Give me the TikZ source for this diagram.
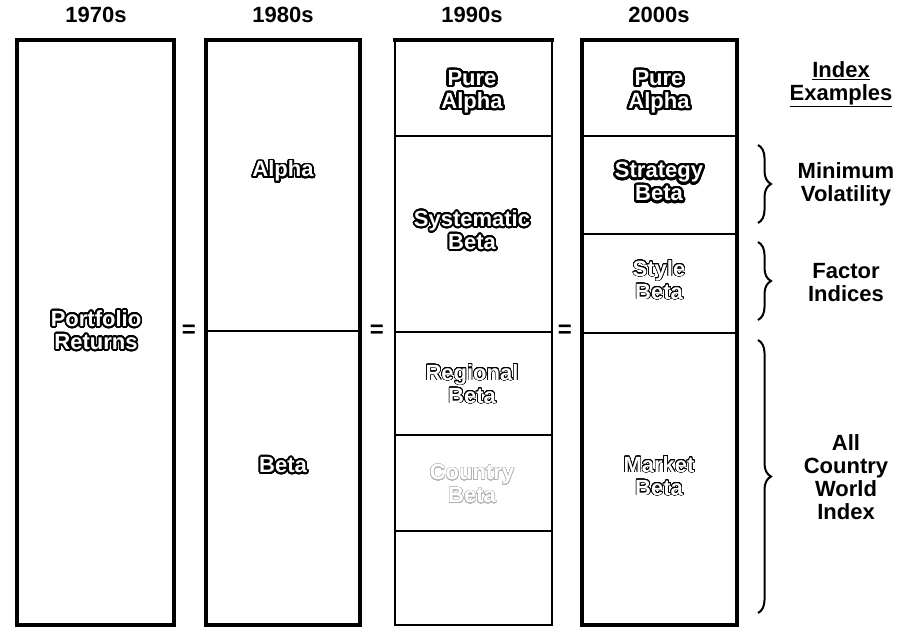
\documentclass[tikz,border=0pt]{standalone}
\usepackage{fontspec}
\setmainfont{Liberation Sans}
\usepackage{contour}
\usetikzlibrary{positioning,decorations.pathreplacing}
\contourlength{1.7pt}
\contournumber{32}
\newcommand{\wlabel}[1]{\contour{black}{\textcolor{white}{#1}}}
\newcommand{\hlabel}[1]{{\contourlength{2.4pt}\contour{black}{\textcolor{white}{#1}}}}
\newcommand{\flabel}[1]{{\contourlength{0.6pt}\contour{black}{\textcolor{white}{#1}}}}
\newcommand{\glabel}[1]{{\contourlength{0.4pt}\contour{gray!60}{\textcolor{white}{#1}}}}

\begin{document}
\begin{tikzpicture}[x=1pt,y=-1pt,
    decade/.style={font=\bfseries\fontsize{22}{22}\selectfont},
    boxtext/.style={font=\bfseries\fontsize{22}{23}\selectfont, align=center, inner sep=0pt},
    sidelabel/.style={font=\bfseries\fontsize{22}{23}\selectfont, align=center, inner sep=0pt},
    eqsign/.style={font=\bfseries\fontsize{24}{24}\selectfont},
    colbox/.style={line width=4pt},
    thinline/.style={line width=1.5pt},
    midline/.style={line width=2.5pt},
    bracket/.style={decorate, decoration={brace, amplitude=13pt, aspect=0.5}, line width=2pt}]
  \useasboundingbox (0,0) rectangle (905,640);
  \def\top{40}
  \def\bot{625}
  %Column edges
  \coordinate (a1) at (17,\top);  \coordinate (b1) at (174,\bot);
  \coordinate (a2) at (206,\top); \coordinate (b2) at (360,\bot);
  \coordinate (a3) at (395,\top); \coordinate (b3) at (552,\bot);
  \coordinate (a4) at (582,\top); \coordinate (b4) at (737,\bot);
  %Draw headers
  \node[decade] (h1) at (96,15) {1970s};
  \node[decade] (h2) at (283,15) {1980s};
  \node[decade] (h3) at (472,15) {1990s};
  \node[decade] (h4) at (659,15) {2000s};
  %Draw columns
  \draw[colbox] (a1) rectangle (b1);
  \draw[colbox] (a2) rectangle (b2);
  \draw[thinline] (395,42) -- (395,\bot) (552,42) -- (552,\bot);
  \draw[colbox] (393,\top) -- (554,\top);
  \draw[midline] (394,\bot) -- (553,\bot);
  \draw[colbox] (a4) rectangle (b4);
  %Draw dividers
  \draw[thinline] (206,331) -- (360,331);
  \draw[thinline] (395,136) -- (552,136);
  \draw[midline] (395,332) -- (552,332);
  \draw[midline] (395,435) -- (552,435);
  \draw[thinline] (395,531) -- (552,531);
  \draw[midline] (582,136) -- (737,136);
  \draw[thinline] (582,234) -- (737,234);
  \draw[midline] (582,333) -- (737,333);
  %Equal signs
  \node[eqsign] (e1) at (189,331) {=};
  \node[eqsign] (e2) at (377,331) {=};
  \node[eqsign] (e3) at (565,331) {=};
  %Draw labels
  \node[boxtext] (ret) at (96,331) {\wlabel{Portfolio}\\\wlabel{Returns}};
  \node[boxtext] (alpha) at (283,172) {\wlabel{Alpha}};
  \node[boxtext] (beta) at (283,466) {\wlabel{Beta}};
  \node[boxtext] (pure3) at (472,93) {\hlabel{Pure}\\\hlabel{Alpha}};
  \node[boxtext] (sys) at (472,231) {\wlabel{Systematic}\\\wlabel{Beta}};
  \node[boxtext] (reg) at (472,384) {\flabel{Regional}\\\flabel{Beta}};
  \node[boxtext] (ctry) at (472,484) {\glabel{Country}\\\glabel{Beta}};
  \node[boxtext] (pure4) at (659,93) {\hlabel{Pure}\\\hlabel{Alpha}};
  \node[boxtext] (strat) at (659,183) {\hlabel{Strategy}\\\hlabel{Beta}};
  \node[boxtext] (style) at (659,280) {\flabel{Style}\\\flabel{Beta}};
  \node[boxtext] (mkt) at (659,476) {\flabel{Market}\\\flabel{Beta}};
  %Index examples
  \node[sidelabel] (idx) at (841,84) {\underline{Index}\\\underline{Examples}};
  \node[sidelabel] (minvol) at (846,184) {Minimum\\Volatility};
  \node[sidelabel] (factor) at (846,283) {Factor\\Indices};
  \node[sidelabel] (acwi) at (846,477) {All\\Country\\World\\Index};
  %Draw braces
  \coordinate (m1) at (758,145); \coordinate (m2) at (758,223);
  \coordinate (f1) at (758,242); \coordinate (f2) at (758,320);
  \coordinate (w1) at (758,340); \coordinate (w2) at (758,613);
  \draw[bracket] (m1) -- (m2);
  \draw[bracket] (f1) -- (f2);
  \draw[bracket] (w1) -- (w2);
\end{tikzpicture}
\end{document}
